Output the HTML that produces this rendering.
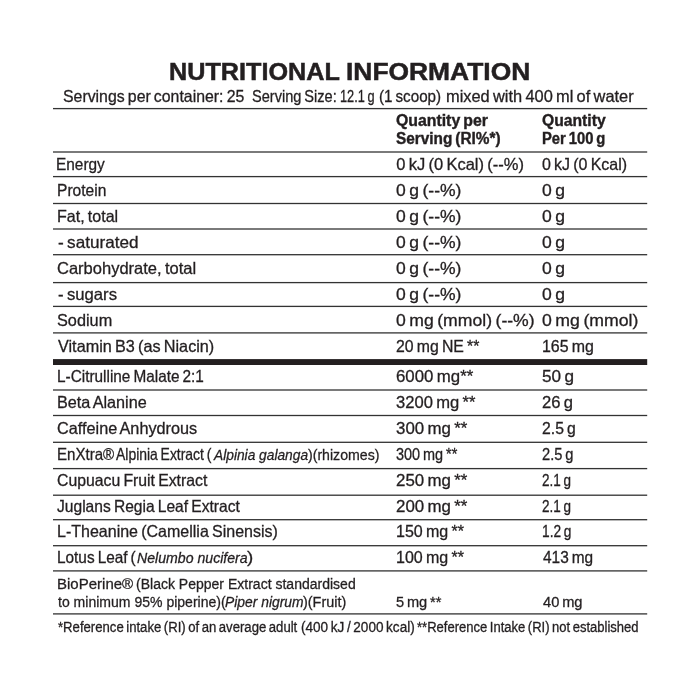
<!DOCTYPE html>
<html lang="en"><head><meta charset="utf-8"><title>Nutritional Information</title>
<style>
html,body{margin:0;padding:0;background:#fff;}
body{width:700px;height:700px;position:relative;overflow:hidden;font-family:"Liberation Sans",sans-serif;color:#231f20;}
.t{position:absolute;white-space:pre;line-height:1;transform-origin:0 0;-webkit-text-stroke:0.3px #231f20;}
.b,.B,.H{font-weight:bold;}
.H{-webkit-text-stroke:0.4px #231f20;}
.B{-webkit-text-stroke:0.5px #231f20;}
.i{font-style:italic;}
svg{position:absolute;left:0;top:0;}
</style></head><body>
<svg width="700" height="700" viewBox="0 0 700 700">
<rect x="53" y="107.95" width="594.2" height="1.3" fill="#333"/>
<rect x="53" y="151.35" width="594.2" height="1.3" fill="#333"/>
<rect x="53" y="175.95" width="594.2" height="1.3" fill="#333"/>
<rect x="53" y="202.85" width="594.2" height="1.3" fill="#333"/>
<rect x="53" y="228.35" width="594.2" height="1.3" fill="#333"/>
<rect x="53" y="254.05" width="594.2" height="1.3" fill="#333"/>
<rect x="53" y="281.95" width="594.2" height="1.3" fill="#333"/>
<rect x="53" y="305.75" width="594.2" height="1.3" fill="#333"/>
<rect x="53" y="332.25" width="594.2" height="1.3" fill="#333"/>
<rect x="53" y="389.35" width="594.2" height="1.3" fill="#333"/>
<rect x="53" y="414.85" width="594.2" height="1.3" fill="#333"/>
<rect x="53" y="441.65" width="594.2" height="1.3" fill="#333"/>
<rect x="53" y="467.95" width="594.2" height="1.3" fill="#333"/>
<rect x="53" y="494.55" width="594.2" height="1.3" fill="#333"/>
<rect x="53" y="519.05" width="594.2" height="1.3" fill="#333"/>
<rect x="53" y="545.05" width="594.2" height="1.3" fill="#333"/>
<rect x="53" y="570.25" width="594.2" height="1.3" fill="#333"/>
<rect x="53" y="613.25" width="594.2" height="1.3" fill="#333"/>
<rect x="53" y="359.1" width="594.2" height="5.9" fill="#231f20"/>
</svg>
<div class="t B" style="left:168.92px;top:60.26px;font-size:24.5px;transform:scaleX(1.0287)">NUTRITIONAL</div>
<div class="t B" style="left:345.80px;top:60.26px;font-size:24.5px;transform:scaleX(1.0772)">INFORMATION</div>
<div class="t" style="left:63.45px;top:88.03px;font-size:16.5px;word-spacing:-1.3px;transform:scaleX(0.9605)">Servings per container: 25</div>
<div class="t" style="left:252.13px;top:88.03px;font-size:16.5px;word-spacing:-1.3px;transform:scaleX(0.8829)">Serving Size:</div>
<div class="t" style="left:339.90px;top:88.03px;font-size:16.5px;word-spacing:-1.3px;transform:scaleX(0.7736)">12.1 g</div>
<div class="t" style="left:378.89px;top:88.03px;font-size:16.5px;word-spacing:-1.3px;transform:scaleX(0.9202)">(1 scoop)</div>
<div class="t" style="left:446.14px;top:88.03px;font-size:16.5px;word-spacing:-1.3px;transform:scaleX(0.9938)">mixed with 400 ml of water</div>
<div class="t H" style="left:396.06px;top:113.06px;font-size:16px;word-spacing:-1.3px;transform:scaleX(0.9892)">Quantity per</div>
<div class="t H" style="left:396.07px;top:130.96px;font-size:16px;word-spacing:-1.3px;transform:scaleX(0.9602)">Serving (RI%*)</div>
<div class="t H" style="left:542.37px;top:113.06px;font-size:16px;word-spacing:-1.3px;transform:scaleX(0.9802)">Quantity</div>
<div class="t H" style="left:541.85px;top:130.96px;font-size:16px;word-spacing:-1.3px;transform:scaleX(0.9243)">Per 100 g</div>
<div class="t" style="left:56.43px;top:156.33px;font-size:16.5px;word-spacing:-1.3px;transform:scaleX(0.9329)">Energy</div>
<div class="t" style="left:396.19px;top:156.33px;font-size:16.5px;word-spacing:-1.3px;transform:scaleX(1.0000)">0 kJ (0 Kcal) (--%)</div>
<div class="t" style="left:542.34px;top:156.33px;font-size:16.5px;word-spacing:-1.3px;transform:scaleX(0.9699)">0 kJ (0 Kcal)</div>
<div class="t" style="left:56.70px;top:182.13px;font-size:16.5px;word-spacing:-1.3px;transform:scaleX(0.9437)">Protein</div>
<div class="t" style="left:396.21px;top:182.13px;font-size:16.5px;word-spacing:-1.3px;transform:scaleX(1.0621)">0 g (--%)</div>
<div class="t" style="left:542.28px;top:182.13px;font-size:16.5px;word-spacing:-1.3px;transform:scaleX(1.0659)">0 g</div>
<div class="t" style="left:56.60px;top:207.93px;font-size:16.5px;word-spacing:-1.3px;transform:scaleX(0.9718)">Fat, total</div>
<div class="t" style="left:396.21px;top:207.93px;font-size:16.5px;word-spacing:-1.3px;transform:scaleX(1.0621)">0 g (--%)</div>
<div class="t" style="left:542.28px;top:207.93px;font-size:16.5px;word-spacing:-1.3px;transform:scaleX(1.0659)">0 g</div>
<div class="t" style="left:58.00px;top:233.93px;font-size:16.5px;word-spacing:-1.3px;transform:scaleX(1.0394)">- saturated</div>
<div class="t" style="left:396.21px;top:233.93px;font-size:16.5px;word-spacing:-1.3px;transform:scaleX(1.0621)">0 g (--%)</div>
<div class="t" style="left:542.28px;top:233.93px;font-size:16.5px;word-spacing:-1.3px;transform:scaleX(1.0659)">0 g</div>
<div class="t" style="left:57.13px;top:259.83px;font-size:16.5px;word-spacing:-1.3px;transform:scaleX(1.0003)">Carbohydrate, total</div>
<div class="t" style="left:396.21px;top:259.83px;font-size:16.5px;word-spacing:-1.3px;transform:scaleX(1.0621)">0 g (--%)</div>
<div class="t" style="left:542.28px;top:259.83px;font-size:16.5px;word-spacing:-1.3px;transform:scaleX(1.0659)">0 g</div>
<div class="t" style="left:58.10px;top:285.73px;font-size:16.5px;word-spacing:-1.3px;transform:scaleX(1.0122)">- sugars</div>
<div class="t" style="left:396.21px;top:285.73px;font-size:16.5px;word-spacing:-1.3px;transform:scaleX(1.0621)">0 g (--%)</div>
<div class="t" style="left:542.28px;top:285.73px;font-size:16.5px;word-spacing:-1.3px;transform:scaleX(1.0659)">0 g</div>
<div class="t" style="left:56.82px;top:311.83px;font-size:16.5px;word-spacing:-1.3px;transform:scaleX(0.9868)">Sodium</div>
<div class="t" style="left:396.03px;top:311.83px;font-size:16.5px;word-spacing:-1.3px;transform:scaleX(1.0671)">0 mg (mmol) (--%)</div>
<div class="t" style="left:542.28px;top:311.83px;font-size:16.5px;word-spacing:-1.3px;transform:scaleX(1.0714)">0 mg (mmol)</div>
<div class="t" style="left:57.93px;top:337.83px;font-size:16.5px;word-spacing:-1.3px;transform:scaleX(0.9826)">Vitamin B3 (as Niacin)</div>
<div class="t" style="left:396.03px;top:337.83px;font-size:16.5px;word-spacing:-1.3px;transform:scaleX(0.9592)">20 mg NE **</div>
<div class="t" style="left:541.83px;top:337.83px;font-size:16.5px;word-spacing:-1.3px;transform:scaleX(0.9665)">165 mg</div>
<div class="t" style="left:56.98px;top:368.43px;font-size:16.5px;word-spacing:-1.3px;transform:scaleX(0.9304)">L-Citrulline Malate 2:1</div>
<div class="t" style="left:395.75px;top:368.43px;font-size:16.5px;word-spacing:-1.3px;transform:scaleX(1.0195)">6000 mg**</div>
<div class="t" style="left:542.16px;top:368.43px;font-size:16.5px;word-spacing:-1.3px;transform:scaleX(1.0393)">50 g</div>
<div class="t" style="left:56.86px;top:394.23px;font-size:16.5px;word-spacing:-1.3px;transform:scaleX(0.9823)">Beta Alanine</div>
<div class="t" style="left:396.00px;top:394.23px;font-size:16.5px;word-spacing:-1.3px;transform:scaleX(1.0045)">3200 mg **</div>
<div class="t" style="left:542.22px;top:394.23px;font-size:16.5px;word-spacing:-1.3px;transform:scaleX(1.0045)">26 g</div>
<div class="t" style="left:56.97px;top:420.03px;font-size:16.5px;word-spacing:-1.3px;transform:scaleX(0.9843)">Caffeine Anhydrous</div>
<div class="t" style="left:395.95px;top:420.03px;font-size:16.5px;word-spacing:-1.3px;transform:scaleX(1.0223)">300 mg **</div>
<div class="t" style="left:542.25px;top:420.03px;font-size:16.5px;word-spacing:-1.3px;transform:scaleX(0.9551)">2.5 g</div>
<div class="t" style="left:396.04px;top:445.73px;font-size:16.5px;word-spacing:-1.3px;transform:scaleX(0.8773)">300 mg **</div>
<div class="t" style="left:542.30px;top:445.73px;font-size:16.5px;word-spacing:-1.3px;transform:scaleX(0.8899)">2.5 g</div>
<div class="t" style="left:57.08px;top:471.73px;font-size:16.5px;word-spacing:-1.3px;transform:scaleX(0.9576)">Cupuacu Fruit Extract</div>
<div class="t" style="left:396.01px;top:471.73px;font-size:16.5px;word-spacing:-1.3px;transform:scaleX(1.0221)">250 mg **</div>
<div class="t" style="left:542.35px;top:471.73px;font-size:16.5px;word-spacing:-1.3px;transform:scaleX(0.8187)">2.1 g</div>
<div class="t" style="left:57.29px;top:497.53px;font-size:16.5px;word-spacing:-1.3px;transform:scaleX(0.9456)">Juglans Regia Leaf Extract</div>
<div class="t" style="left:396.01px;top:497.53px;font-size:16.5px;word-spacing:-1.3px;transform:scaleX(1.0221)">200 mg **</div>
<div class="t" style="left:542.35px;top:497.53px;font-size:16.5px;word-spacing:-1.3px;transform:scaleX(0.8187)">2.1 g</div>
<div class="t" style="left:56.89px;top:523.33px;font-size:16.5px;word-spacing:-1.3px;transform:scaleX(0.9705)">L-Theanine (Camellia Sinensis)</div>
<div class="t" style="left:395.72px;top:523.33px;font-size:16.5px;word-spacing:-1.3px;transform:scaleX(0.9724)">150 mg **</div>
<div class="t" style="left:541.75px;top:523.33px;font-size:16.5px;word-spacing:-1.3px;transform:scaleX(0.8315)">1.2 g</div>
<div class="t" style="left:395.72px;top:549.13px;font-size:16.5px;word-spacing:-1.3px;transform:scaleX(0.9724)">100 mg **</div>
<div class="t" style="left:542.59px;top:549.13px;font-size:16.5px;word-spacing:-1.3px;transform:scaleX(0.9341)">413 mg</div>
<div class="t" style="left:396.13px;top:593.75px;font-size:15.3px;word-spacing:-1.3px;transform:scaleX(0.9552)">5 mg **</div>
<div class="t" style="left:542.83px;top:593.75px;font-size:15.3px;word-spacing:-1.3px;transform:scaleX(0.9588)">40 mg</div>
<div class="t" style="left:57.01px;top:445.73px;font-size:16.5px;word-spacing:-1.3px;transform:scaleX(0.9137)">EnXtra®</div>
<div class="t" style="left:116.22px;top:445.73px;font-size:16.5px;word-spacing:-1.3px;transform:scaleX(0.8443)">Alpinia Extract (</div>
<div class="t i" style="left:214.11px;top:446.58px;font-size:15.5px;transform:scaleX(0.8872)">Alpinia galanga</div>
<div class="t" style="left:308.47px;top:446.58px;font-size:15.5px;transform:scaleX(0.9120)">)(rhizomes)</div>
<div class="t" style="left:56.97px;top:549.13px;font-size:16.5px;word-spacing:-1.3px;transform:scaleX(0.9314)">Lotus Leaf (</div>
<div class="t i" style="left:136.71px;top:549.98px;font-size:15.5px;transform:scaleX(0.9110)">Nelumbo nucifera</div>
<div class="t" style="left:247.24px;top:549.13px;font-size:16.5px;transform:scaleX(1.1344)">)</div>
<div class="t" style="left:56.57px;top:575.75px;font-size:15.3px;transform:scaleX(0.9817)">BioPerine®</div>
<div class="t" style="left:136.24px;top:575.75px;font-size:15.3px;transform:scaleX(0.9163)">(Black Pepper Extract standardised</div>
<div class="t" style="left:57.57px;top:593.85px;font-size:15.3px;transform:scaleX(0.9172)">to minimum 95% piperine)(</div>
<div class="t i" style="left:225.02px;top:593.85px;font-size:15.3px;transform:scaleX(0.9055)">Piper nigrum</div>
<div class="t" style="left:303.27px;top:593.85px;font-size:15.3px;transform:scaleX(0.9420)">)(Fruit)</div>
<div class="t" style="left:57.53px;top:620.45px;font-size:14px;word-spacing:-1.2px;transform:scaleX(0.9380)">*Reference intake (RI) of an average adult</div>
<div class="t" style="left:300.76px;top:620.45px;font-size:14px;word-spacing:-1.2px;transform:scaleX(0.9690)">(400 kJ / 2000 kcal)</div>
<div class="t" style="left:417.05px;top:620.45px;font-size:14px;word-spacing:-1.2px;transform:scaleX(0.9310)">**Reference Intake (RI) not established</div>
</body></html>
